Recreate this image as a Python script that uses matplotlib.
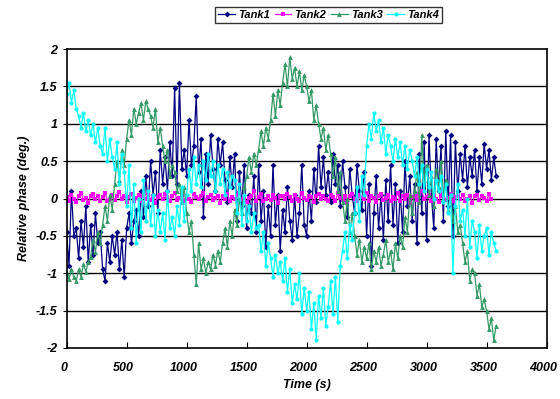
import numpy as np
import matplotlib
matplotlib.use("Agg")
import matplotlib.pyplot as plt
import matplotlib.transforms as mtransforms

# sampling grid (s)
time_s = np.arange(0, 3600, 20)

tank1 = [
    -0.45, -0.90, 0.10, -0.50, -0.40,   -0.80, -0.30, -0.65, -0.10, -0.85,
    -0.35, -0.75, -0.20, -0.60, -0.45,  -0.95, -1.10, -0.60, -0.85, -0.50,
    -0.75, -0.45, -0.95, -0.55, -1.05,  -0.40, -0.20, -0.60, -0.30, -0.15,
    -0.50, 0.10, -0.25, 0.30, -0.10,    0.50, 0.05, 0.35, -0.20, 0.65,
    0.20, 0.55, 0.10, 0.75, 0.30,       1.48, 0.20, 1.55, 0.40, 0.65,
    0.30, 1.05, 0.45, 0.70, 1.37,       0.35, 0.80, -0.25, 0.60, 0.20,
    0.85, 0.40, 0.10, 0.80, 0.45,       0.75, 0.25, -0.05, 0.55, 0.15,
    0.60, -0.30, 0.35, -0.10, 0.45,     -0.40, 0.05, -0.20, 0.30, -0.45,
    0.45, -0.30, 0.10, -0.65, -0.10,    -0.50, 0.45, -0.35, 0.05, -0.70,
    -0.15, -0.45, 0.15, -0.30, -0.55,   0.05, -0.50, -0.20, 0.45, -0.35,
    -0.50, 0.10, -0.30, 0.40, -0.05,    0.70, 0.15, 0.55, 0.05, 0.35,
    -0.05, 0.60, 0.20, 0.45, -0.10,     0.50, 0.15, -0.25, 0.40, 0.05,
    -0.20, 0.45, 0.10, -0.15, 0.35,     -0.50, 0.20, -0.90, -0.20, 0.30,
    -0.40, 0.05, -0.55, 0.25, -0.30,    0.45, -0.35, 0.20, -0.60, 0.10,
    -0.45, 0.50, -0.10, 0.30, -0.30,    0.20, -0.60, 0.60, -0.20, 0.75,
    -0.55, 0.85, 0.05, -0.40, 0.80,     0.10, 0.70, -0.30, 0.90, -0.10,
    0.85, -0.50, 0.75, 0.10, 0.60,      0.25, 0.70, 0.15, 0.55, 0.30,
    0.65, 0.10, 0.55, 0.20, 0.73,       0.40, 0.65, 0.25, 0.55, 0.30,
]

tank2 = [
    0.02, -0.03, 0.05, 0.00, -0.05, 0.04, 0.08, -0.02, 0.01, -0.06,
    0.03, 0.06, -0.01, 0.04, -0.04, 0.02, 0.07, -0.03, 0.00, 0.05,
    -0.02, 0.03, 0.09, -0.01, 0.04, -0.05, 0.02, 0.06, -0.03, 0.01,
    0.05, -0.04, 0.03, 0.00, 0.07, -0.02, 0.04, -0.06, 0.02, 0.05,
    -0.01, 0.06, 0.02, -0.04, 0.03, 0.08, -0.02, 0.01, 0.05, -0.03,
    0.04, 0.00, -0.05, 0.06, 0.02, -0.01, 0.03, 0.07, -0.04, 0.02,
    0.05, -0.02, 0.01, 0.04, -0.06, 0.03, 0.00, 0.06, -0.03, 0.02,
    -0.01, 0.05, 0.08, -0.02, 0.03, -0.05, 0.01, 0.04, 0.10, -0.03,
    0.02, 0.06, -0.04, 0.00, 0.03, -0.02, 0.05, 0.01, -0.06, 0.04,
    0.03, -0.01, 0.06, 0.02, -0.04, 0.05, 0.00, -0.03, 0.07, 0.01,
    -0.02, 0.04, 0.02, -0.05, 0.03, 0.06, -0.01, 0.04, 0.00, -0.04,
    0.05, 0.02, -0.03, 0.07, 0.01, -0.02, 0.04, -0.05, 0.03, 0.06,
    0.00, -0.04, 0.05, 0.02, -0.01, 0.08, -0.03, 0.03, 0.01, -0.05,
    0.04, 0.06, -0.02, 0.01, 0.05, -0.04, 0.02, 0.00, 0.07, -0.03,
    0.03, -0.01, 0.05, -0.06, 0.02, 0.04, -0.02, 0.06, 0.10, -0.01,
    0.02, 0.05, -0.03, 0.03, 0.00, -0.05, 0.04, 0.07, -0.02, 0.01,
    0.06, -0.04, 0.02, 0.03, -0.01, 0.05, -0.03, 0.00, 0.04, -0.06,
    0.03, 0.05, -0.02, 0.04, 0.01, -0.04, 0.06, -0.01,
]

tank3 = [
    -1.00, -1.08, -0.95, -1.05, -1.10,  -0.95, -1.05, -0.88, -0.98, -0.85,
    -0.78, -0.55, -0.72, -0.45, -0.60,  -0.35, -0.10, -0.30, 0.05, -0.15,
    0.20, 0.50, 0.25, 0.65, 0.45,       0.80, 1.05, 0.85, 1.20, 1.00,
    1.15, 1.28, 1.05, 1.30, 1.20,       1.10, 0.95, 1.20, 0.75, 0.95,
    0.70, 0.50, 0.65, 0.30, 0.45,       0.35, 0.10, 0.20, -0.05, 0.15,
    -0.20, -0.45, -0.30, -0.75, -1.15,  -0.60, -0.95, -0.80, -1.00, -0.85,
    -0.95, -0.75, -0.90, -0.70, -0.85,  -0.60, -0.40, -0.65, -0.30, -0.50,
    -0.15, -0.35, 0.00, -0.20, 0.15,    0.30, 0.55, 0.35, 0.60, 0.45,
    0.65, 0.90, 0.70, 0.95, 0.80,       1.05, 1.40, 1.10, 1.45, 1.25,
    1.55, 1.80, 1.50, 1.89, 1.60,       1.75, 1.50, 1.70, 1.45, 1.65,
    1.50, 1.30, 1.45, 1.05, 1.25,       1.00, 0.80, 0.95, 0.65, 0.85,
    0.60, 0.30, 0.55, 0.10, 0.35,       -0.05, -0.30, 0.00, -0.45, -0.20,
    -0.50, -0.75, -0.55, -0.85, -0.65,  -0.80, -0.60, -0.95, -0.70, -0.85,
    -0.65, -0.90, -0.75, -0.55, -0.85,  -0.70, -0.95, -0.60, -0.80, -0.50,
    -0.65, -0.25, -0.45, 0.05, -0.20,   0.10, 0.35, -0.05, 0.85, 0.25,
    0.45, 0.05, 0.30, -0.10, 0.40,      0.15, 0.50, 0.00, 0.25, -0.15,
    0.05, -0.30, -0.10, -0.45, -0.35,   -0.60, -0.85, -0.70, -1.10, -0.95,
    -1.00, -1.30, -1.15, -1.45, -1.35,  -1.50, -1.75, -1.60, -1.90, -1.70,
]

tank4 = [
    1.40, 1.55, 1.28, 1.45, 1.20,       1.10, 0.95, 1.15, 0.90, 1.05,
    0.85, 1.00, 0.75, 0.95, 0.70,       0.60, 0.95, 0.50, 0.80, 0.55,
    0.40, 0.75, 0.20, 0.60, 0.35,       -0.10, 0.45, -0.40, 0.20, -0.60,
    0.00, -0.45, 0.25, -0.30, 0.10,     -0.35, 0.05, -0.50, -0.15, -0.45,
    -0.20, -0.55, 0.10, -0.40, -0.25,   -0.50, -0.10, -0.35, 0.15, -0.30,
    0.05, 0.40, 0.10, 0.55, 0.20,       0.45, 0.15, 0.50, 0.25, 0.60,
    0.30, 0.50, 0.10, 0.45, 0.20,       0.40, 0.05, 0.35, 0.15, 0.30,
    0.25, -0.20, 0.20, -0.35, 0.05,     -0.30, -0.10, -0.45, -0.20, -0.40,
    -0.35, -0.70, -0.45, -0.90, -0.60,  -0.80, -1.05, -0.75, -1.00, -0.85,
    -1.10, -0.80, -1.25, -0.95, -1.40,  -1.15, -1.35, -1.00, -1.55, -1.20,
    -1.50, -1.25, -1.75, -1.40, -1.89,  -1.30, -1.60, -1.20, -1.70, -1.45,
    -1.10, -1.55, -1.05, -1.65, -0.90,  -0.70, -0.45, -0.80, -0.35, -0.55,
    -0.20, 0.15, -0.30, 0.30, 0.05,     0.70, 1.00, 0.80, 1.15, 0.90,
    1.05, 0.75, 0.95, 0.60, 0.85,       0.70, 0.50, 0.80, 0.55, 0.75,
    0.45, 0.70, 0.40, 0.65, 0.50,       0.30, 0.55, 0.20, 0.45, 0.10,
    0.40, 0.15, 0.35, 0.00, 0.25,       0.10, 0.30, -0.05, 0.20, -0.20,
    0.05, -1.00, -0.10, 0.20, -0.30,    -0.15, -0.50, 0.00, -0.65, -0.30,
    -0.45, -0.80, -0.35, -0.70, -0.50,  -0.40, -0.75, -0.45, -0.60, -0.70,
]

series = [
    ("Tank1", tank1, "#000080", "D", 3.0),
    ("Tank2", tank2, "#FF00FF", "s", 3.0),
    ("Tank3", tank3, "#339966", "^", 3.5),
    ("Tank4", tank4, "#00FFFF", "o", 3.0),
]

plt.rcParams["font.family"] = ["Liberation Sans", "DejaVu Sans"]
plt.rcParams["font.weight"] = "bold"
plt.rcParams["font.style"] = "italic"

fig = plt.figure(figsize=(5.6, 3.99), dpi=100)
ax = fig.add_axes([0.119, 0.128, 0.857, 0.749])

for name, vals, color, marker, ms in series:
    ax.plot(time_s[:len(vals)], vals, color=color, lw=0.9, marker=marker,
            markersize=ms, markeredgewidth=0, label=name)

ax.set_xlim(0, 4000)
ax.set_ylim(-2, 2)
ax.set_xticks(np.arange(0, 4001, 500))
ax.set_yticks(np.arange(-2, 2.01, 0.5))
ax.set_yticklabels(["-2", "-1.5", "-1", "-0.5", "0", "0.5", "1", "1.5", "2"])
for y in np.arange(-1.5, 2.0, 0.5):
    ax.axhline(y, color="black", lw=1.0, zorder=0)

for s in ax.spines.values():
    s.set_color("black")
    s.set_linewidth(1.2)
ax.tick_params(axis="x", direction="in", length=4, labelsize=9, pad=10)
ax.tick_params(axis="y", direction="out", length=3, labelsize=9)

# nudge x tick labels slightly left, like the original
shift = mtransforms.ScaledTranslation(-3 / 100, 0, fig.dpi_scale_trans)
for lbl in ax.get_xticklabels():
    lbl.set_transform(lbl.get_transform() + shift)

ax.set_xlabel("Time (s)", fontsize=9, fontweight="bold", style="italic")
ax.set_ylabel("Relative phase (deg.)", fontsize=9, fontweight="bold", style="italic")

leg = fig.legend(loc="center", bbox_to_anchor=(0.587, 0.962), ncol=4,
                 fontsize=8, frameon=True, fancybox=False, edgecolor="black",
                 handlelength=1.5, handletextpad=0.3, columnspacing=0.4,
                 borderpad=0.3, markerscale=1.0)
leg.get_frame().set_linewidth(1.0)

fig.savefig("out.png", dpi=100)
